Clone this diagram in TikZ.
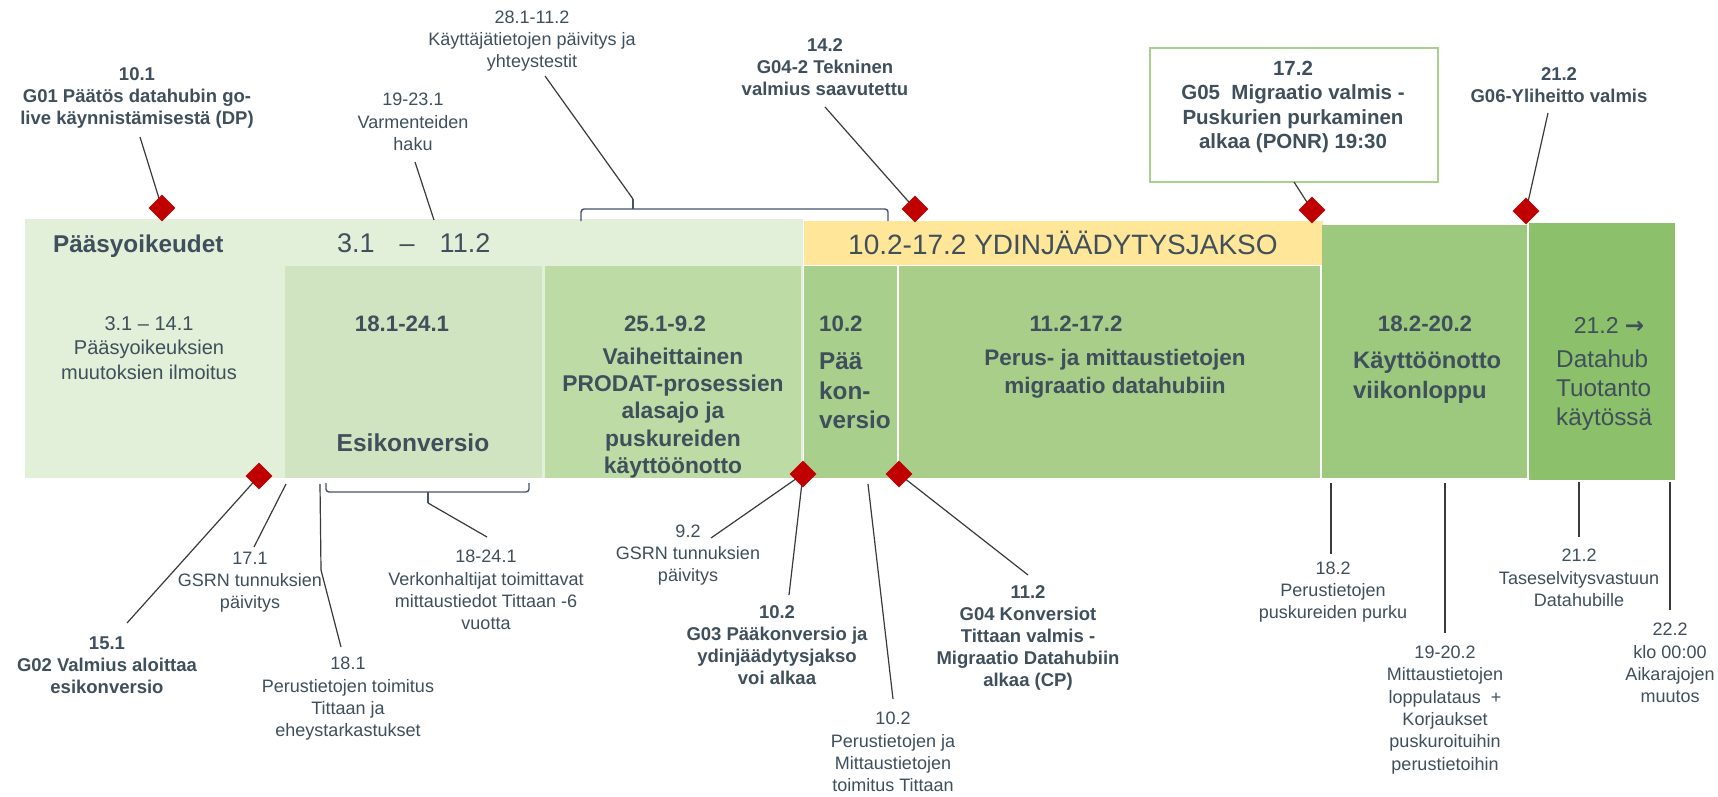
\documentclass[tikz,border=0pt]{standalone}
\usepackage{fontspec}
\setmainfont{Liberation Sans}
\newfontfamily\arrowfont{DejaVu Sans}
\usetikzlibrary{shapes.geometric}
\definecolor{txt}{HTML}{3F4F5B}
\definecolor{lnc}{HTML}{3A3A3A}
\definecolor{brc}{HTML}{44546A}
\definecolor{gA}{HTML}{E2EFD9}
\definecolor{gB}{HTML}{D0E4C1}
\definecolor{gC}{HTML}{BDDBA5}
\definecolor{gD}{HTML}{A9CF8C}
\definecolor{gE}{HTML}{A8CE89}
\definecolor{gF}{HTML}{9DC97F}
\definecolor{gG}{HTML}{8CC06A}
\definecolor{yel}{HTML}{FFE699}
\definecolor{redd}{HTML}{C00000}
\definecolor{boxg}{HTML}{A9D18E}
\tikzset{
  lbl/.style={text=txt, align=center, inner sep=0pt, font=\fontsize{18}{22.3}\selectfont},
  lblb/.style={text=txt, align=center, inner sep=0pt, font=\bfseries\fontsize{18.5}{22}\selectfont},
  conn/.style={draw=lnc, line width=1.2pt},
  brace/.style={draw=brc, line width=1.4pt, rounded corners=3pt},
  dia/.style={diamond, fill=redd, inner sep=0pt, minimum width=27pt, minimum height=27pt},
  boxdate/.style={text=txt, inner sep=0pt, font=\bfseries\fontsize{22.3}{27}\selectfont},
}
\begin{document}
\begin{tikzpicture}[x=1pt,y=-1pt]
\useasboundingbox (0,0) rectangle (1718,797);
\fill[white] (0,0) rectangle (1718,797);
% boxes
\fill[gA] (25,219) rectangle (803,478);
\fill[gB] (285,266) rectangle (542,478);
\fill[gC] (545,266) rectangle (801,478);
\fill[yel] (804,221) rectangle (1323,265);
\fill[gD] (804,266) rectangle (897,478);
\fill[gE] (899,266) rectangle (1320,478);
\fill[gF] (1322,225) rectangle (1527,478);
\fill[gG] (1529,223) rectangle (1675,480);
% band texts
\node[text=txt, inner sep=0pt, anchor=west, font=\bfseries\fontsize{24.3}{29}\selectfont] (pas) at (53,246) {Pääsyoikeudet};
\node[text=txt, inner sep=0pt, anchor=west, font=\fontsize{27}{32}\selectfont] (per1) at (337,243) {3.1\hspace{25pt}–\hspace{25pt}11.2};
\node[text=txt, inner sep=0pt, anchor=west, font=\fontsize{28}{33}\selectfont] (per2) at (848,243) {10.2-17.2 YDINJÄÄDYTYSJAKSO};
% box texts
\node[text=txt, align=center, inner sep=0pt, font=\fontsize{20}{24.5}\selectfont] (b1) at (149,348) {3.1 – 14.1\\Pääsyoikeuksien\\muutoksien ilmoitus};
\node[boxdate] (b2d) at (402,324) {18.1-24.1};
\node[text=txt, inner sep=0pt, font=\bfseries\fontsize{24.5}{29}\selectfont] (b2) at (413,443) {Esikonversio};
\node[boxdate] (b3d) at (665,324) {25.1-9.2};
\node[text=txt, align=center, inner sep=0pt, font=\bfseries\fontsize{22.8}{27.2}\selectfont] (b3) at (673,413) {Vaiheittainen\\PRODAT-prosessien\\alasajo ja\\puskureiden\\käyttöönotto};
\node[boxdate, anchor=west] (b4d) at (819,324) {10.2};
\node[text=txt, align=left, inner sep=0pt, anchor=west, font=\bfseries\fontsize{24.3}{29.5}\selectfont] (b4) at (819,391) {Pää\\kon-\\versio};
\node[boxdate] (b5d) at (1076,324) {11.2-17.2};
\node[text=txt, align=center, inner sep=0pt, font=\bfseries\fontsize{22.5}{28}\selectfont] (b5) at (1115,374) {Perus- ja mittaustietojen\\migraatio datahubiin};
\node[boxdate] (b6d) at (1425,324) {18.2-20.2};
\node[text=txt, align=left, inner sep=0pt, anchor=west, font=\bfseries\fontsize{23.8}{30}\selectfont] (b6) at (1353,378) {Käyttöönotto\\viikonloppu};
\node[text=txt, inner sep=0pt, font=\fontsize{23}{29}\selectfont] (b7d) at (1609,325) {21.2 {\arrowfont\bfseries →}};
\node[text=txt, align=left, inner sep=0pt, anchor=west, font=\fontsize{24.3}{29}\selectfont] (b7) at (1556,390) {Datahub\\Tuotanto\\käytössä};
% top labels
\node[lblb] (t1) at (137,98) {10.1\\G01 Päätös datahubin go-\\live käynnistämisestä (DP)};
\node[lbl] (t2) at (413,122) {19-23.1\\Varmenteiden\\haku};
\node[lbl] (t3) at (532,41) {28.1-11.2\\Käyttäjätietojen päivitys ja\\yhteystestit};
\node[lblb] (t4) at (825,67) {14.2\\G04-2 Tekninen\\valmius saavutettu};
\node[draw=boxg, line width=1.5pt, minimum width=288pt, minimum height=134pt, inner sep=0pt] (t5box) at (1294,115) {};
\node[text=txt, align=center, inner sep=0pt, font=\bfseries\fontsize{20.5}{24.3}\selectfont] (t5) at (1293,107) {17.2\\G05\ \ Migraatio valmis -\\Puskurien purkaminen\\alkaa (PONR) 19:30};
\node[lblb] (t6) at (1559,85) {21.2\\G06-Yliheitto valmis};
% bottom labels
\node[lblb] (u1) at (107,665) {15.1\\G02 Valmius aloittaa\\esikonversio};
\node[lbl] (u2) at (250,582) {17.1\\GSRN tunnuksien\\päivitys};
\node[lbl] (u3) at (348,699) {18.1\\Perustietojen toimitus\\Tittaan ja\\eheystarkastukset};
\node[lbl] (u4) at (486,590) {18-24.1\\Verkonhaltijat toimittavat\\mittaustiedot Tittaan -6\\vuotta};
\node[lbl] (u5) at (688,555) {9.2\\GSRN tunnuksien\\päivitys};
\node[lblb] (u6) at (777,645) {10.2\\G03 Pääkonversio ja\\ydinjäädytysjakso\\voi alkaa};
\node[lbl] (u7) at (893,752) {10.2\\Perustietojen ja\\Mittaustietojen\\toimitus Tittaan};
\node[lblb] (u8) at (1028,638) {11.2\\G04 Konversiot\\Tittaan valmis -\\Migraatio Datahubiin\\alkaa (CP)};
\node[lbl] (u9) at (1333,592) {18.2\\Perustietojen\\puskureiden purku};
\node[lbl] (u10) at (1445,710) {19-20.2\\Mittaustietojen\\loppulataus\ \ +\\Korjaukset\\puskuroituihin\\perustietoihin};
\node[lbl] (u11) at (1579,578) {21.2\\Taseselvitysvastuun\\Datahubille};
\node[lbl] (u12) at (1670,663) {22.2\\klo 00:00\\Aikarajojen\\muutos};
% diamonds (positions)
\coordinate (p1) at (162,208);
\coordinate (p2) at (915,209);
\coordinate (p3) at (1312,210);
\coordinate (p4) at (1526,211);
\coordinate (p5) at (259,476);
\coordinate (p6) at (803,474);
\coordinate (p7) at (899,474);
% connector ends
\coordinate (e1) at (140,137);
\coordinate (e2a) at (415,162); \coordinate (e2b) at (434,220);
\coordinate (e3) at (545,76);
\coordinate (e4) at (825,107);
\coordinate (e5) at (1294,182);
\coordinate (e6) at (1548,113);
\coordinate (f1) at (127,623);
\coordinate (f2a) at (286,484); \coordinate (f2b) at (254,547);
\coordinate (f3a) at (320,484); \coordinate (f3m) at (321,570); \coordinate (f3b) at (341,647);
\coordinate (f4) at (487,537);
\coordinate (f5) at (711,538);
\coordinate (f6) at (789,595);
\coordinate (f7a) at (868,484); \coordinate (f7b) at (893,699);
\coordinate (f8) at (1028,575);
\coordinate (f9a) at (1331,483); \coordinate (f9b) at (1331,554);
\coordinate (f10a) at (1445,483); \coordinate (f10b) at (1445,633);
\coordinate (f11a) at (1579,482); \coordinate (f11b) at (1579,537);
\coordinate (f12a) at (1670,482); \coordinate (f12b) at (1670,610);
% braces
\coordinate (bt) at (633,199);
\draw[brace] (581,221) -- (581,209) -- (888,209) -- (888,221);
\draw[brace] (633,209) -- (bt);
\coordinate (bb) at (428,503);
\draw[brace] (326,483) -- (326,492) -- (529,492) -- (529,483);
\draw[brace] (428,492) -- (bb);
% connectors
\draw[conn] (e1) -- (p1);
\draw[conn] (e2a) -- (e2b);
\draw[conn] (e3) -- (bt);
\draw[conn] (e4) -- (p2);
\draw[conn] (e5) -- (p3);
\draw[conn] (e6) -- (p4);
\draw[conn] (p5) -- (f1);
\draw[conn] (f2a) -- (f2b);
\draw[conn] (f3a) -- (f3m) -- (f3b);
\draw[conn] (bb) -- (f4);
\draw[conn] (p6) -- (f5);
\draw[conn] (p6) -- (f6);
\draw[conn] (f7a) -- (f7b);
\draw[conn] (p7) -- (f8);
\draw[conn] (f9a) -- (f9b);
\draw[conn] (f10a) -- (f10b);
\draw[conn] (f11a) -- (f11b);
\draw[conn] (f12a) -- (f12b);
% diamonds
\node[dia] (d1) at (p1) {};
\node[dia] (d2) at (p2) {};
\node[dia] (d3) at (p3) {};
\node[dia] (d4) at (p4) {};
\node[dia] (d5) at (p5) {};
\node[dia] (d6) at (p6) {};
\node[dia] (d7) at (p7) {};
\end{tikzpicture}
\end{document}
